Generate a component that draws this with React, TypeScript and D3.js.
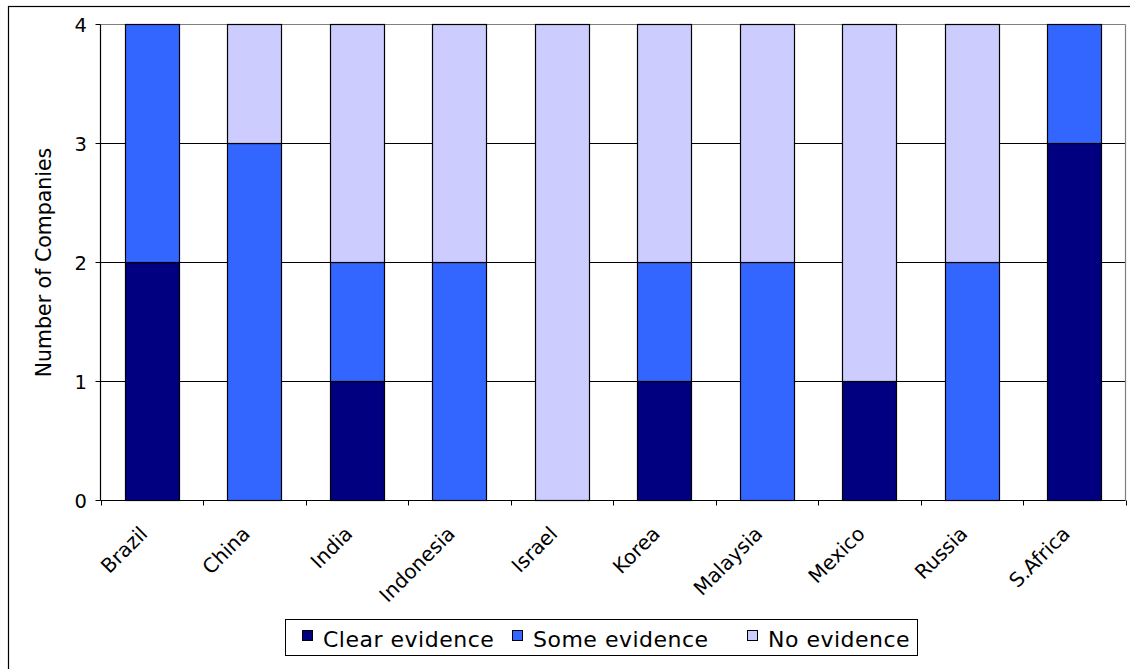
import * as d3 from 'd3'

const countries = ['Brazil', 'China', 'India', 'Indonesia', 'Israel', 'Korea', 'Malaysia', 'Mexico', 'Russia', 'S.Africa']
const clearEvidence = [2, 0, 1, 0, 0, 1, 0, 1, 0, 3]
const someEvidence = [2, 3, 1, 2, 0, 1, 2, 0, 2, 1]
const noEvidence = [0, 1, 2, 2, 4, 2, 2, 3, 2, 0]
const seriesNames = ['Clear evidence', 'Some evidence', 'No evidence']
const seriesColors = ['#000080', '#3366FF', '#CCCCFF']
const yTicks = [0, 1, 2, 3, 4]

const FONT = 'DejaVu Sans, Verdana, sans-serif'

const W = 1130
const H = 669
const plot = { left: 100.5, right: 1125.5, top: 24.5, bottom: 500.5 }

export default function App() {
  const rows = countries.map((c, i) => ({
    country: c,
    clear: clearEvidence[i],
    some: someEvidence[i],
    none: noEvidence[i],
  }))
  const stack = d3.stack<(typeof rows)[number]>().keys(['clear', 'some', 'none'])(rows)

  // Excel-style 90% gap width
  const x = d3.scaleBand<string>()
    .domain(countries)
    .range([plot.left, plot.right])
    .paddingInner(0.9 / 1.9)
    .paddingOuter(0.45 / 1.9)

  const y = d3.scaleLinear().domain([0, 4]).range([plot.bottom, plot.top])

  const step = x.step()
  const boundaries = d3.range(countries.length + 1).map(i => plot.left + i * step)

  const legend = { x: 285.5, y: 619.5, w: 632, h: 36 }
  const legendItemX = [302, 512, 747]

  return (
    <svg width={W} height={H} style={{ position: 'absolute', left: 0, top: 0, display: 'block' }} fontFamily={FONT}>
      <rect x={0} y={0} width={W} height={H} fill="#fff" />
      {/* outer chart frame */}
      <rect x={8.5} y={6.5} width={W + 20} height={H + 20} fill="none" stroke="#000" strokeWidth={1.2} />

      {/* gridlines */}
      {yTicks.filter(t => t > 0 && t < 4).map(t => (
        <line key={t} x1={plot.left} x2={plot.right} y1={y(t)} y2={y(t)} stroke="#000" strokeWidth={1} />
      ))}
      {/* plot area border */}
      <line x1={plot.left} x2={plot.right} y1={plot.top} y2={plot.top} stroke="#808080" strokeWidth={1.2} />
      <line x1={plot.right} x2={plot.right} y1={plot.top} y2={plot.bottom} stroke="#808080" strokeWidth={1.2} />

      {/* bars */}
      {stack.map((s, si) => (
        <g key={si}>
          {s.map((d, i) => {
            const h = y(d[0]) - y(d[1])
            if (h <= 0) return null
            return (
              <rect
                key={i}
                x={Math.round(x(countries[i])!) + 0.5}
                y={y(d[1])}
                width={Math.round(x.bandwidth())}
                height={h}
                fill={seriesColors[si]}
                stroke="#000"
                strokeWidth={1.2}
              />
            )
          })}
        </g>
      ))}

      {/* axes */}
      <line x1={plot.left} x2={plot.left} y1={plot.top} y2={plot.bottom} stroke="#000" strokeWidth={1.2} />
      <line x1={plot.left} x2={plot.right} y1={plot.bottom} y2={plot.bottom} stroke="#000" strokeWidth={1.2} />
      {yTicks.map(t => (
        <g key={t}>
          <line x1={plot.left - 5} x2={plot.left} y1={y(t)} y2={y(t)} stroke="#000" strokeWidth={1} />
          <text x={87} y={y(t)} dy="0.36em" textAnchor="end" fontSize={19.5} fill="#000">{t}</text>
        </g>
      ))}
      {boundaries.map((bx, i) => (
        <line key={i} x1={Math.round(bx) + 0.5} x2={Math.round(bx) + 0.5} y1={plot.bottom} y2={plot.bottom + 5} stroke="#000" strokeWidth={1} />
      ))}
      {countries.map(c => {
        const cx = x(c)! + x.bandwidth() / 2 - 3
        const cy = 535
        return (
          <text key={c} transform={`translate(${cx},${cy}) rotate(-45)`} textAnchor="end" fontSize={20} fill="#000">
            {c}
          </text>
        )
      })}

      {/* y axis title */}
      <text transform={`translate(51,${(plot.top + plot.bottom) / 2}) rotate(-90)`} textAnchor="middle" fontSize={20.5} fill="#000">
        Number of Companies
      </text>

      {/* legend */}
      <rect x={legend.x} y={legend.y} width={legend.w} height={legend.h} fill="#fff" stroke="#000" strokeWidth={1} />
      {seriesNames.map((n, i) => (
        <g key={n}>
          <rect x={legendItemX[i] + 0.5} y={630.5} width={10} height={10} fill={seriesColors[i]} stroke="#000" strokeWidth={1} />
          <text x={legendItemX[i] + 21} y={646.5} fontSize={22} letterSpacing={0.5} fill="#000">{n}</text>
        </g>
      ))}
    </svg>
  )
}
